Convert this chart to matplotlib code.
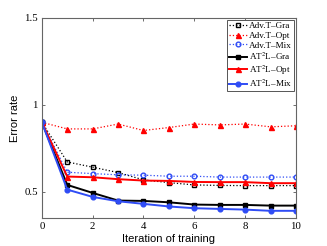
import matplotlib.pyplot as plt

iterations = [0, 1, 2, 3, 4, 5, 6, 7, 8, 9, 10]

adv_gra = [0.90, 0.672, 0.642, 0.611, 0.569, 0.553, 0.540, 0.537, 0.536, 0.536, 0.536]
adv_opt = [0.90, 0.862, 0.862, 0.890, 0.853, 0.870, 0.890, 0.885, 0.890, 0.874, 0.880]
adv_mix = [0.90, 0.613, 0.605, 0.598, 0.596, 0.590, 0.590, 0.585, 0.585, 0.585, 0.585]
at2l_gra = [0.90, 0.540, 0.494, 0.450, 0.448, 0.440, 0.427, 0.425, 0.425, 0.421, 0.421]
at2l_opt = [0.90, 0.588, 0.584, 0.573, 0.565, 0.563, 0.557, 0.556, 0.556, 0.550, 0.550]
at2l_mix = [0.90, 0.513, 0.471, 0.446, 0.431, 0.416, 0.406, 0.402, 0.398, 0.391, 0.391]

labels = ["Adv.T\u2013Gra", "Adv.T\u2013Opt", "Adv.T\u2013Mix",
          "AT$^2$L\u2013Gra", "AT$^2$L\u2013Opt", "AT$^2$L\u2013Mix"]

plt.rcParams["font.family"] = "Liberation Serif"
plt.rcParams["mathtext.fontset"] = "stix"

fig = plt.figure(figsize=(3.27, 2.46), dpi=100)
ax = fig.add_axes([0.128, 0.114, 0.777, 0.813])

blue = "#2f4cf5"
ax.plot(iterations, adv_gra, ":s", color="black", lw=0.9, ms=3.2, mfc="none", mew=1.0, label=labels[0])
ax.plot(iterations, adv_opt, ":^", color="red", lw=0.9, ms=3.6, label=labels[1])
ax.plot(iterations, adv_mix, ":o", color=blue, lw=0.9, ms=3.4, mfc="none", mew=1.0, label=labels[2])
ax.plot(iterations, at2l_gra, "-s", color="black", lw=1.4, ms=3.2, label=labels[3])
ax.plot(iterations, at2l_opt, "-^", color="red", lw=1.4, ms=3.6, label=labels[4])
ax.plot(iterations, at2l_mix, "-o", color=blue, lw=1.4, ms=3.4, label=labels[5])

ax.set_xlim(0, 10)
ax.set_ylim(0.35, 1.5)
ax.set_xticks([0, 2, 4, 6, 8, 10])
ax.set_yticks([0.5, 1, 1.5])
ax.set_yticklabels(["0.5", "1", "1.5"])
ax.tick_params(direction="in", top=True, right=True, labelsize=7.8,
               length=2.5, width=0.6, color="#555555", pad=3)
for s in ax.spines.values():
    s.set_color("#666666")
    s.set_linewidth(0.8)

ax.set_xlabel("Iteration of training", family="Liberation Sans", fontsize=8, labelpad=2)
ax.set_ylabel("Error rate", family="Liberation Sans", fontsize=8, labelpad=3)

leg = ax.legend(loc="upper right", fontsize=6.6, fancybox=False, framealpha=1,
                edgecolor="#555555", borderaxespad=0.2, handlelength=2.0,
                handletextpad=0.15, borderpad=0.25, labelspacing=0.12)
leg.get_frame().set_linewidth(0.7)

fig.savefig("out.png", dpi=100)
